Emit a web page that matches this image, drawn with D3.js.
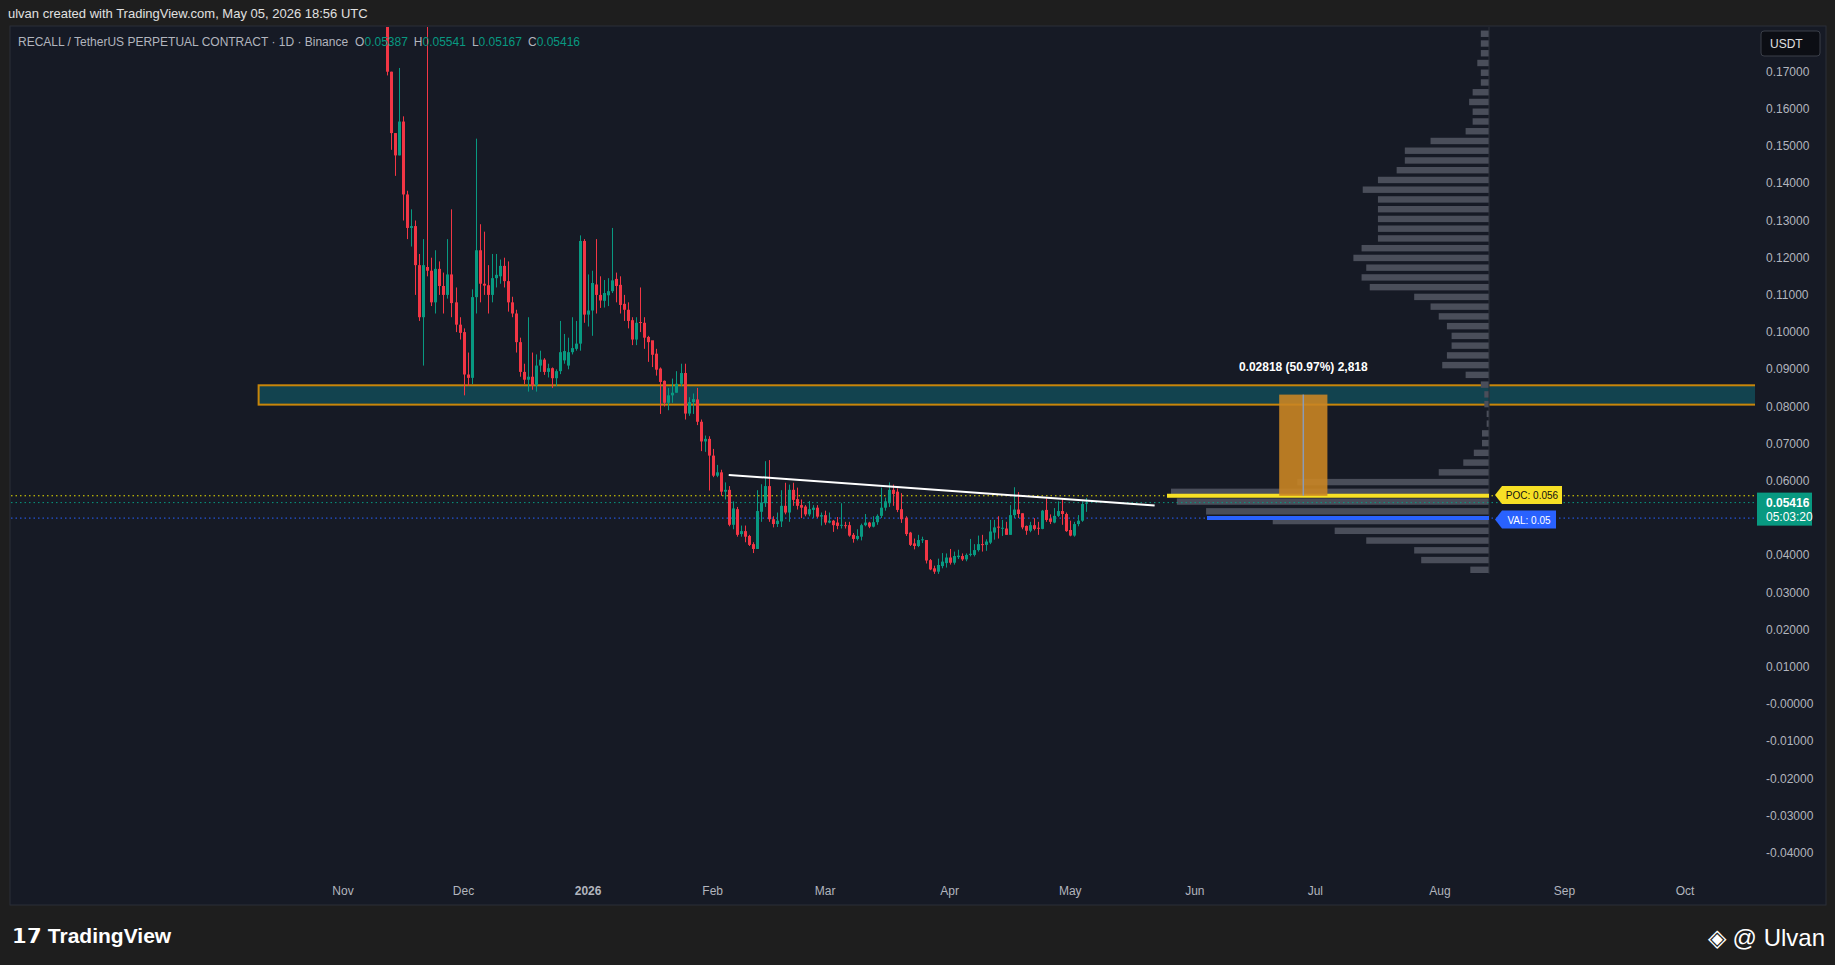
<!DOCTYPE html>
<html><head><meta charset="utf-8">
<script src="https://cdn.jsdelivr.net/npm/d3@7/dist/d3.min.js"></script>
<style>body{margin:0;background:#1e1e1e;overflow:hidden}svg{display:block}text{font-family:"Liberation Sans",Arial,sans-serif}</style>
</head><body><svg id="c" width="1835" height="965"></svg>
<script>
const startDate = "2025-11-12";
const ohlc = [
[.195,.21,.169,.170],[.170,.170,.149,.1535],[.1535,.1535,.142,.1475],[.1475,.171,.1475,.1566],[.1566,.158,.130,.137],
[.137,.138,.125,.128],[.128,.133,.123,.1285],[.1285,.130,.110,.118],[.118,.121,.103,.104],[.104,.125,.091,.118],
[.1175,.20,.115,.1165],[.1165,.120,.107,.108],[.108,.122,.105,.117],[.117,.119,.110,.1124],[.1124,.116,.105,.110],
[.110,.125,.109,.1155],[.1155,.133,.104,.1078],[.108,.112,.100,.102],[.102,.104,.098,.0998],[.100,.101,.083,.0886],
[.0886,.0945,.0855,.0877],[.0877,.1115,.086,.1094],[.1094,.152,.105,.122],[.122,.129,.108,.113],[.113,.127,.110,.1125],
[.1126,.118,.105,.110],[.110,.121,.108,.1145],[.1145,.121,.112,.1154],[.115,.1195,.113,.1178],[.1178,.120,.112,.1137],
[.1137,.119,.1055,.108],[.108,.1095,.104,.105],[.105,.106,.0945,.0973],[.0973,.0985,.088,.0893],[.0893,.0915,.086,.0872],
[.0872,.104,.084,.088],[.088,.0945,.0845,.0857],[.0857,.094,.084,.091],[.091,.095,.0893,.0926],[.0926,.093,.0885,.0893],
[.0893,.0915,.0878,.0903],[.0903,.0905,.085,.0876],[.0876,.090,.0855,.0895],[.0895,.103,.0887,.0946],[.0924,.0995,.0915,.0949],
[.091,.0985,.090,.0946],[.0946,.104,.094,.0957],[.0955,.103,.095,.0969],[.0969,.126,.095,.1245],[.1245,.125,.1025,.1047],
[.1047,.1155,.1015,.1058],[.1058,.1165,.099,.1132],[.1128,.125,.105,.110],[.110,.115,.1065,.1085],[.1084,.114,.1066,.1105],
[.1099,.1145,.107,.111],[.111,.128,.1105,.1139],[.1143,.116,.108,.1124],[.1127,.115,.105,.1073],[.1076,.110,.103,.106],
[.106,.108,.101,.103],[.1032,.104,.0965,.098],[.098,.104,.0965,.1025],[.1027,.112,.100,.1025],[.1025,.104,.0955,.0985],
[.0987,.099,.092,.0973],[.0978,.0975,.0906,.0939],[.0942,.0955,.0883,.0899],[.0902,.0905,.078,.0866],[.0869,.087,.080,.081],
[.081,.085,.079,.083],[.083,.0875,.081,.0837],[.0837,.0895,.0837,.0861],[.0861,.0915,.0855,.089],[.089,.0915,.0765,.0781],
[.0781,.0825,.0775,.0812],[.0812,.0835,.078,.082],[.0819,.085,.075,.0759],[.0759,.0765,.068,.0706],[.0706,.0722,.0678,.0713],
[.0713,.072,.0574,.0668],[.0668,.0686,.061,.0614],[.0614,.0643,.061,.0623],[.0623,.063,.056,.0571],[.0571,.0596,.055,.0576],
[.0576,.0586,.0478,.0482],[.0482,.0545,.047,.0526],[.0524,.053,.045,.0455],[.0457,.048,.045,.0465],[.0465,.048,.0435,.045],
[.0452,.0455,.0425,.0428],[.043,.0435,.0406,.0417],[.0417,.0575,.0417,.0519],[.0517,.0591,.049,.0542],[.054,.0653,.053,.0586],
[.0586,.0656,.049,.0497],[.0497,.0505,.0475,.0484],[.0484,.0515,.0476,.0493],[.0491,.0575,.0476,.0533],[.0533,.0595,.051,.0515],
[.0515,.059,.049,.0576],[.0576,.0595,.0533,.0549],[.0551,.0582,.0523,.0533],[.0535,.055,.05,.0528],[.0531,.0535,.0505,.051],
[.051,.0546,.0505,.0524],[.0522,.0535,.05,.0528],[.0528,.0535,.05,.0504],[.0504,.0515,.048,.0508],[.0508,.052,.0482,.0488],
[.0488,.0515,.0486,.0493],[.0493,.0495,.0463,.0481],[.0488,.0503,.047,.0479],[.0481,.054,.0472,.0482],[.0481,.049,.0472,.048],
[.0481,.049,.045,.0453],[.0455,.046,.0434,.0444],[.0444,.047,.044,.0452],[.045,.0485,.044,.0481],[.0481,.0511,.0478,.0488],
[.0488,.049,.0473,.0477],[.0477,.0505,.0475,.0489],[.0489,.051,.0482,.0506],[.0506,.0582,.05,.0528],[.0528,.0555,.052,.0545],
[.054,.0596,.053,.0576],[.0576,.059,.0533,.0565],[.0571,.058,.0516,.0522],[.0524,.0567,.0487,.0497],[.0501,.0505,.0452,.0457],
[.0461,.0463,.0425,.0428],[.0432,.0445,.0416,.0425],[.0425,.0455,.0422,.0441],[.0441,.045,.0433,.0443],[.0441,.0441,.0378,.0386],
[.0387,.039,.036,.0362],[.0365,.0372,.035,.0356],[.0356,.0391,.035,.0374],[.0371,.0406,.0365,.0383],[.0379,.0405,.0367,.0394],
[.0394,.0417,.0375,.038],[.038,.041,.0375,.0398],[.0395,.0415,.039,.0399],[.0398,.0405,.0385,.0389],[.0389,.0405,.0384,.0401],
[.0401,.0444,.0397,.0404],[.0401,.043,.0397,.0414],[.0414,.0453,.041,.043],[.043,.0455,.041,.0428],[.0428,.0443,.0412,.0437],
[.0434,.0495,.043,.0464],[.0461,.0495,.0442,.0475],[.0477,.0505,.0445,.0475],[.0472,.0495,.0452,.0474],[.0472,.049,.0455,.0455],
[.0455,.0535,.0455,.0508],[.0508,.0583,.05,.0523],[.0523,.057,.05,.0511],[.0513,.0513,.047,.0475],[.0479,.048,.0455,.0466],
[.0466,.049,.0462,.0481],[.0481,.05,.0467,.0471],[.0474,.049,.0455,.0472],[.0471,.0522,.047,.052],[.0522,.0553,.049,.0495],
[.0499,.051,.0484,.049],[.0488,.0527,.0486,.0506],[.0506,.0545,.0503,.0519],[.0519,.0553,.0482,.0511],[.0511,.0515,.0463,.0465],
[.0468,.0493,.0451,.0453],[.0453,.049,.045,.0484],[.0484,.0508,.0478,.0493],[.0493,.0545,.049,.0538],[.05387,.05541,.05167,.05416]
];
const priceTicks = [0.17,0.16,0.15,0.14,0.13,0.12,0.11,0.10,0.09,0.08,0.07,0.06,0.05,0.04,0.03,0.02,0.01,0,-0.01,-0.02,-0.03,-0.04];
const priceTickLabels = ["0.17000","0.16000","0.15000","0.14000","0.13000","0.12000","0.11000","0.10000","0.09000","0.08000","0.07000","0.06000","","0.04000","0.03000","0.02000","0.01000","-0.00000","-0.01000","-0.02000","-0.03000","-0.04000"];
const monthTicks = ["2025-11-01","2025-12-01","2026-01-01","2026-02-01","2026-03-01","2026-04-01","2026-05-01","2026-06-01","2026-07-01","2026-08-01","2026-09-01","2026-10-01"];
const monthLabels = ["Nov","Dec","2026","Feb","Mar","Apr","May","Jun","Jul","Aug","Sep","Oct"];
const vpVolumes = [7,7,7,10,7,7,14,17,14,14,20,50,72,72,79,95,108,95,95,95,95,95,109,116,105,109,102,64,50,43,36,32,32,36,40,20,7,4,4,2,2,6,6,13,22,43,164,272,267,242,185,132,105,64,58,16];
const vpTop = 0.1802, vpStep = 0.00262;
const zone = [0.0805, 0.0857, "2025-10-11", "2026-10-20"];
const trend = [["2026-02-05",0.0616],["2026-05-22",0.0534]];
const poc = 0.056, val = 0.05, last = 0.05416;
const measure = {from:"2026-06-22", to:"2026-07-04", top:0.0832, bottom:0.056, label:"0.02818 (50.97%) 2,818"};

const svg = d3.select("#c");
const parse = d3.utcParse("%Y-%m-%d");
const x = d3.scaleUtc().domain([parse("2025-11-01"), parse("2026-10-01")]).range([343,1685]);
const y = d3.scaleLinear().domain([0.08,0.17]).range([406.5,71.7]);
const day = 86400000;
const t0 = parse(startDate).getTime();
const candles = ohlc.map((d,i)=>({date:new Date(t0+i*day),o:d[0],h:d[1],l:d[2],c:d[3]}));
const G="#089981", R="#f23645";

svg.append("text").attr("x",8).attr("y",18).attr("fill","#e0e0e0").attr("font-size",13).text("ulvan created with TradingView.com, May 05, 2026 18:56 UTC");
svg.append("rect").attr("x",10).attr("y",26).attr("width",1816).attr("height",879).attr("fill","#161a25").attr("stroke","#2a2e39");
svg.append("clipPath").attr("id","cp").append("rect").attr("x",11).attr("y",27).attr("width",1744).attr("height",877);
const g = svg.append("g").attr("clip-path","url(#cp)");

g.append("rect").attr("x",x(parse(zone[2]))).attr("width",x(parse(zone[3]))-x(parse(zone[2])))
 .attr("y",y(zone[1])).attr("height",y(zone[0])-y(zone[1])).attr("fill","#12434f").attr("stroke","#c8860a").attr("stroke-width",2);

const vpRight = 1489;
const vw = d3.scaleLinear().domain([0,272]).range([0,318]);
g.selectAll(".vp").data(vpVolumes).join("rect").attr("x",d=>vpRight-vw(d)).attr("width",d=>vw(d))
 .attr("y",(d,i)=>y(vpTop-i*vpStep)-3.2).attr("height",6.4).attr("fill","#4a4e5a");
g.append("line").attr("x1",vpRight).attr("x2",vpRight).attr("y1",27).attr("y2",y(vpTop-55*vpStep)+4).attr("stroke","#2a2e39");

[[poc,"#e8e000"],[last,G],[val,"#2962ff"]].forEach(([p,c])=>{
 g.append("line").attr("x1",11).attr("x2",1755).attr("y1",y(p)).attr("y2",y(p)).attr("stroke",c).attr("stroke-width",1).attr("stroke-dasharray","1.5,3");
});
g.append("line").attr("x1",1167).attr("x2",vpRight).attr("y1",y(poc)).attr("y2",y(poc)).attr("stroke","#f7e025").attr("stroke-width",4);
g.append("line").attr("x1",1207).attr("x2",vpRight).attr("y1",y(val)).attr("y2",y(val)).attr("stroke","#2962ff").attr("stroke-width",4);

const mx0=x(parse(measure.from)), mx1=x(parse(measure.to));
g.append("rect").attr("x",mx0).attr("width",mx1-mx0).attr("y",y(measure.top)).attr("height",y(measure.bottom)-y(measure.top)).attr("fill","#c98524").attr("opacity",0.9);
g.append("line").attr("x1",(mx0+mx1)/2).attr("x2",(mx0+mx1)/2).attr("y1",y(measure.top)).attr("y2",y(measure.bottom)).attr("stroke","#8a9bb5").attr("stroke-width",1.5);
g.append("text").attr("x",(mx0+mx1)/2).attr("y",y(measure.top)-24).attr("text-anchor","middle").attr("fill","#fff").attr("font-size",12).attr("font-weight","bold").text(measure.label);

const cg = g.append("g");
cg.selectAll(".w").data(candles).join("line").attr("x1",d=>Math.round(x(d.date))+0.5).attr("x2",d=>Math.round(x(d.date))+0.5)
 .attr("y1",d=>y(d.h)).attr("y2",d=>y(d.l)).attr("stroke",d=>d.c>=d.o?G:R).attr("stroke-width",1);
cg.selectAll(".b").data(candles).join("rect").attr("x",d=>Math.round(x(d.date))-1).attr("width",3)
 .attr("y",d=>y(Math.max(d.o,d.c))).attr("height",d=>Math.max(1,Math.abs(y(d.o)-y(d.c)))).attr("fill",d=>d.c>=d.o?G:R);

g.append("line").attr("x1",x(parse(trend[0][0]))).attr("y1",y(trend[0][1])).attr("x2",x(parse(trend[1][0]))).attr("y2",y(trend[1][1]))
 .attr("stroke","#ffffff").attr("stroke-width",2);

function tag(py,txt,bg,fg,w){
 const gg=svg.append("g").attr("transform",`translate(1502,${y(py)})`);
 gg.append("path").attr("d",`M-7,0 L0,-9 L${w},-9 L${w},9 L0,9 Z`).attr("fill",bg);
 gg.append("text").attr("x",w/2).attr("y",4).attr("text-anchor","middle").attr("fill",fg).attr("font-size",10).text(txt);
}
tag(0.0562,"POC: 0.056","#f7e025","#111",60);
tag(0.0496,"VAL: 0.05","#2962ff","#fff",54);

priceTicks.forEach((p,i)=>{ if(priceTickLabels[i]) svg.append("text").attr("x",1766).attr("y",y(p)+4).attr("fill","#b2b5be").attr("font-size",12).text(priceTickLabels[i]); });
svg.append("rect").attr("x",1757).attr("y",y(last)-10).attr("width",55).attr("height",33).attr("fill",G);
svg.append("text").attr("x",1766).attr("y",y(last)+4).attr("fill","#fff").attr("font-size",12).attr("font-weight","bold").text(last.toFixed(5));
svg.append("text").attr("x",1766).attr("y",y(last)+18).attr("fill","#fff").attr("font-size",12).text("05:03:20");
svg.append("rect").attr("x",1761).attr("y",31).attr("width",59).attr("height",25).attr("rx",3).attr("fill","#0c0e14").attr("stroke","#3a3e48");
svg.append("text").attr("x",1770).attr("y",48).attr("fill","#e0e0e0").attr("font-size",12).text("USDT");

monthTicks.forEach((m,i)=>svg.append("text").attr("x",x(parse(m))).attr("y",895).attr("text-anchor","middle").attr("fill","#b2b5be")
 .attr("font-size",12).attr("font-weight",monthLabels[i]==="2026"?"bold":"normal").text(monthLabels[i]));

const tt = svg.append("text").attr("x",18).attr("y",46).attr("font-size",12).attr("fill","#b2b5be");
tt.append("tspan").text("RECALL / TetherUS PERPETUAL CONTRACT · 1D · Binance");
const lc=candles[candles.length-1];
[["O",lc.o],["H",lc.h],["L",lc.l],["C",lc.c]].forEach(([k,v],i)=>{
 tt.append("tspan").attr("dx",i===0?7:6).attr("fill","#b2b5be").text(k);
 tt.append("tspan").attr("fill",G).text(v.toFixed(5));
});

svg.append("text").attr("x",12).attr("y",943).attr("fill","#fff").attr("font-size",21).attr("font-weight","bold").text("𝟭𝟳 TradingView");
svg.append("text").attr("x",1825).attr("y",946).attr("text-anchor","end").attr("fill","#fff").attr("font-size",24).text("◈ @ Ulvan");
</script></body></html>
